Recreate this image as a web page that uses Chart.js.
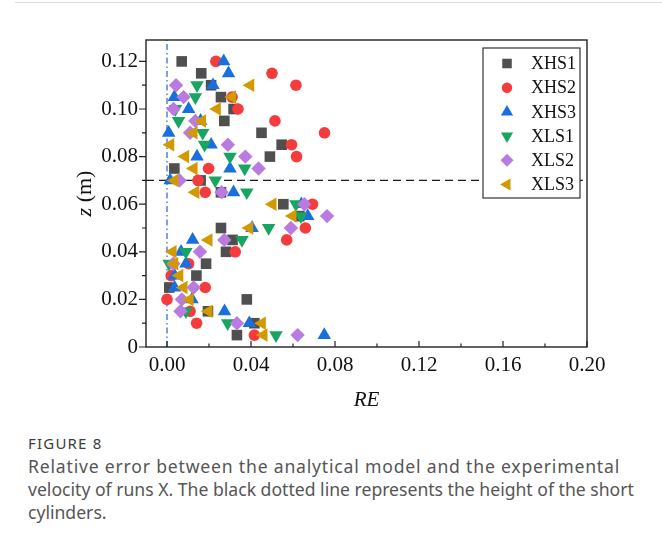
<!DOCTYPE html>
<html>
<head>
<meta charset="utf-8">
<script src="https://cdn.jsdelivr.net/npm/chart.js@4.4.1/dist/chart.umd.min.js"></script>
<style>
  body { margin: 0; background: #fff; width: 662px; height: 550px; overflow: hidden; position: relative; font-family: "Noto Sans", "Open Sans", sans-serif; }
  #wrap { position: absolute; left: 0; top: 0; width: 662px; height: 420px; }
  .topline { position: absolute; left: 15px; top: 2px; right: 0; border-top: 1px solid #dcdcdc; }
  .fig-label { position: absolute; left: 28px; top: 433px; font-size: 15px; letter-spacing: 1.2px; color: #3c3c3c; }
  .caption { position: absolute; left: 28px; top: 455px; width: 640px; white-space: nowrap; font-size: 17.6px; line-height: 23px; color: #555; }
  .caption .l1 { letter-spacing: 0.8px; }
</style>
</head>
<body>
<div class="topline"></div>
<div id="wrap"><canvas id="chart" width="662" height="420"></canvas></div>
<div class="fig-label">FIGURE 8</div>
<div class="caption"><span class="l1">Relative error between the analytical model and the experimental</span><br>velocity of runs X. The black dotted line represents the height of the short<br>cylinders.</div>

<script>
// heights (m) the RE values were read at, top to bottom
const heights = [0.120, 0.115, 0.110, 0.105, 0.100, 0.095, 0.090, 0.085, 0.080, 0.075, 0.070, 0.065,
                 0.060, 0.055, 0.050, 0.045, 0.040, 0.035, 0.030, 0.025, 0.020, 0.015, 0.010, 0.005];

// RE per run (null = no point at that height)
const reXHS1 = [0.007, 0.0163, 0.021, 0.0257, 0.0317, 0.0273, 0.045, 0.0546, 0.049, 0.0035, 0.016, 0.0257,
                0.0554, 0.063, 0.0257, 0.0312, 0.0281, 0.0186, 0.014, 0.0011, 0.038, 0.0195, 0.0416, 0.0333];
const reXHS2 = [0.0233, 0.050, 0.0614, 0.031, 0.0338, 0.0514, 0.075, 0.0593, 0.0617, 0.0198, 0.0148, 0.0182,
                0.0693, null, 0.0659, 0.057, 0.0325, 0.0103, 0.002, 0.0182, 0.000, 0.011, 0.0141, 0.0416];
const reXHS3 = [0.027, 0.0293, 0.0219, 0.0035, 0.0103, 0.016, 0.0008, 0.021, 0.0143, 0.030, 0.0015, 0.0317,
                0.064, 0.067, 0.0405, 0.0122, 0.0067, 0.009, 0.0036, 0.0036, 0.0119, 0.0274, 0.0392, 0.0749];
const reXLS1 = [null, null, 0.0143, 0.0135, 0.004, 0.0055, 0.017, 0.0179, 0.030, 0.037, 0.023, 0.038,
                0.0614, 0.0638, 0.0484, 0.0357, 0.009, 0.001, null, null, null, 0.009, 0.0289, 0.0519];
const reXLS2 = [null, null, 0.0043, 0.0079, 0.0031, 0.0135, 0.011, 0.029, 0.0373, 0.0436, 0.006, 0.026,
                0.0654, 0.0762, 0.059, 0.0273, 0.0157, 0.003, null, 0.0127, 0.0071, 0.0064, 0.0333, 0.0622];
const reXLS3 = [null, null, 0.0397, 0.031, 0.0238, 0.0167, 0.0127, 0.0016, 0.0087, 0.0127, 0.0036, 0.0135,
                0.0503, 0.0598, 0.0392, 0.0198, 0.0027, 0.0035, 0.0059, 0.0079, 0.0108, 0.0198, 0.0452, 0.046];

const runNames = ['XHS1', 'XHS2', 'XHS3', 'XLS1', 'XLS2', 'XLS3'];
const runValues = [reXHS1, reXHS2, reXHS3, reXLS1, reXLS2, reXLS3];

const xTickVals = [0, 0.04, 0.08, 0.12, 0.16, 0.20];
const xMinorVals = [0.02, 0.06, 0.10, 0.14, 0.18];
const yTickVals = [0, 0.02, 0.04, 0.06, 0.08, 0.10, 0.12];
const yMinorVals = [0.01, 0.03, 0.05, 0.07, 0.09, 0.11];

const cylinderHeight = 0.07;

// marker styles, Origin-ish palette
const markers = [
  { color: '#4f4f4f', style: 'rect',     rotation: 0,   radius: 7.5 },
  { color: '#f53b3b', style: 'circle',   rotation: 0,   radius: 5.8 },
  { color: '#1a6fdf', style: 'triangle', rotation: 0,   radius: 7.8 },
  { color: '#17a561', style: 'triangle', rotation: 180, radius: 7.8 },
  { color: '#b97be0', style: 'rectRot',  rotation: 0,   radius: 7.2 },
  { color: '#d39a00', style: 'triangle', rotation: 270, radius: 7.8 }
];

const serif = '"Liberation Serif", "Times New Roman", serif';

const datasets = runNames.map((name, i) => ({
  label: name,
  data: heights.map((z, k) => runValues[i][k] == null ? null : { x: runValues[i][k], y: z }).filter(Boolean),
  pointStyle: markers[i].style,
  rotation: markers[i].rotation,
  pointRadius: markers[i].radius,
  pointHoverRadius: markers[i].radius,
  backgroundColor: markers[i].color,
  borderColor: markers[i].color,
  borderWidth: 0,
  order: 6 - i   // later runs on top, like the original
}));

// reference lines
datasets.push({
  type: 'line',
  label: 'cylinder height',
  data: [{ x: -0.01, y: cylinderHeight }, { x: 0.20, y: cylinderHeight }],
  borderColor: '#1a1a1a',
  borderWidth: 1.4,
  borderDash: [8, 5],
  pointRadius: 0,
  order: 20
});
datasets.push({
  type: 'line',
  label: 'zero',
  data: [{ x: 0, y: 0 }, { x: 0, y: 0.129 }],
  borderColor: '#2a64c8',
  borderWidth: 1.2,
  borderDash: [6, 3, 1.5, 3],
  pointRadius: 0,
  order: 21
});

// frame + ticks (x ticks point in, y ticks point out)
const frameTicks = {
  id: 'frameTicks',
  afterDatasetsDraw(chart) {
    const { ctx, chartArea: a, scales: { x, y } } = chart;
    ctx.save();
    ctx.strokeStyle = '#222';
    ctx.lineWidth = 1.4;
    ctx.strokeRect(a.left, a.top, a.right - a.left, a.bottom - a.top);
    ctx.lineWidth = 1.2;
    ctx.beginPath();
    xTickVals.forEach(v => { const px = x.getPixelForValue(v); ctx.moveTo(px, a.bottom); ctx.lineTo(px, a.bottom - 6); });
    xMinorVals.forEach(v => { const px = x.getPixelForValue(v); ctx.moveTo(px, a.bottom); ctx.lineTo(px, a.bottom - 3.5); });
    yTickVals.forEach(v => { const py = y.getPixelForValue(v); ctx.moveTo(a.left, py); ctx.lineTo(a.left - 7, py); });
    yMinorVals.forEach(v => { const py = y.getPixelForValue(v); ctx.moveTo(a.left, py); ctx.lineTo(a.left - 4, py); });
    ctx.stroke();

    // y title: italic z, upright (m)
    const cy = (a.top + a.bottom) / 2;
    ctx.translate(85, cy);
    ctx.rotate(-Math.PI / 2);
    ctx.fillStyle = '#111';
    ctx.textBaseline = 'middle';
    ctx.font = 'italic 22px ' + serif;
    const wz = ctx.measureText('z').width;
    ctx.font = '22px ' + serif;
    const wm = ctx.measureText(' (m)').width;
    const sx = -(wz + wm) / 2;
    ctx.font = 'italic 22px ' + serif;
    ctx.fillText('z', sx, 0);
    ctx.font = '22px ' + serif;
    ctx.fillText(' (m)', sx + wz, 0);
    ctx.restore();
  }
};

// boxed legend in the top right corner
const boxLegend = {
  id: 'boxLegend',
  afterDraw(chart) {
    const ctx = chart.ctx;
    const bx = 483, by = 48, bw = 97, bh = 150;
    ctx.save();
    ctx.fillStyle = '#fff';
    ctx.fillRect(bx, by, bw, bh);
    ctx.strokeStyle = '#333';
    ctx.lineWidth = 1.2;
    ctx.strokeRect(bx, by, bw, bh);
    ctx.font = '18px ' + serif;
    ctx.textBaseline = 'middle';
    runNames.forEach((name, i) => {
      const yy = by + 15.5 + i * 24.2;
      ctx.fillStyle = markers[i].color;
      Chart.helpers.drawPoint(ctx, {
        pointStyle: markers[i].style,
        rotation: markers[i].rotation,
        radius: markers[i].radius * 0.9,
        borderWidth: 0
      }, bx + 24, yy);
      ctx.fillStyle = '#111';
      ctx.fillText(name, bx + 48, yy + 1);
    });
    ctx.restore();
  }
};

new Chart(document.getElementById('chart'), {
  type: 'scatter',
  data: { datasets },
  options: {
    responsive: false,
    animation: false,
    layout: { padding: { left: 0, top: 40, right: 75, bottom: 0 } },
    plugins: { legend: { display: false }, tooltip: { enabled: false } },
    scales: {
      x: {
        type: 'linear',
        min: -0.01,
        max: 0.20,
        grid: { display: false, drawTicks: false },
        border: { display: false },
        afterBuildTicks: scale => { scale.ticks = xTickVals.map(v => ({ value: v })); },
        afterFit: scale => { scale.height = 73; },
        ticks: {
          color: '#111',
          padding: 6,
          font: { family: serif, size: 21 },
          callback: v => v.toFixed(2)
        },
        title: {
          display: true,
          text: 'RE',
          color: '#111',
          font: { family: serif, size: 21, style: 'italic' },
          padding: { top: 0, bottom: 7 }
        }
      },
      y: {
        type: 'linear',
        min: 0,
        max: 0.129,
        grid: { display: false, drawTicks: false },
        border: { display: false },
        afterBuildTicks: scale => { scale.ticks = yTickVals.map(v => ({ value: v })); },
        afterFit: scale => { scale.width = 146; },
        ticks: {
          color: '#111',
          padding: 8,
          font: { family: serif, size: 21 },
          callback: v => v === 0 ? '0' : v.toFixed(2)
        }
      }
    }
  },
  plugins: [frameTicks, boxLegend]
});
</script>
</body>
</html>
